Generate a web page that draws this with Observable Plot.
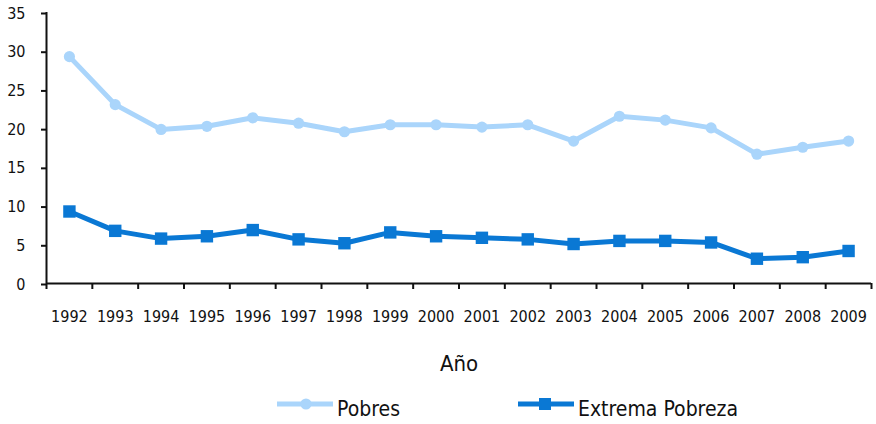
<!DOCTYPE html>
<html>
<head>
<meta charset="utf-8">
<script src="https://cdn.jsdelivr.net/npm/d3@7"></script>
<script src="https://cdn.jsdelivr.net/npm/@observablehq/plot@0.6"></script>
<style>
  html, body { margin: 0; padding: 0; background: #fff; }
  body { position: relative; width: 876px; height: 424px; overflow: hidden;
         font-family: "DejaVu Sans Condensed", "Liberation Sans Narrow", sans-serif; }
  #legend { position: absolute; left: 0; top: 390px; width: 876px; height: 34px; }
  .leg-swatch { position: absolute; top: 6px; }
  .leg-text { position: absolute; top: 8px; font-size: 21px; line-height: 22px; color: #111; white-space: nowrap; }
</style>
</head>
<body>
<div id="chart"></div>
<div id="legend"></div>
<script>
const years = [1992,1993,1994,1995,1996,1997,1998,1999,2000,2001,2002,2003,2004,2005,2006,2007,2008,2009];
const pobres = [29.3,23.1,19.9,20.3,21.4,20.7,19.6,20.5,20.5,20.2,20.5,18.4,21.6,21.1,20.1,16.7,17.6,18.4];
const extrema = [9.3,6.8,5.8,6.1,6.9,5.7,5.2,6.6,6.1,5.9,5.7,5.1,5.5,5.5,5.3,3.2,3.4,4.2];
const yTicks = [0,5,10,15,20,25,30,35];
const seriesNames = ["Pobres", "Extrema Pobreza"];
const xTitle = "Año";

const colorLight = "#aad5fb";
const colorDark = "#0a78d4";
const font = '"DejaVu Sans Condensed", "Liberation Sans Narrow", sans-serif';

const dataP = years.map((y, i) => ({year: y, value: pobres[i]}));
const dataE = years.map((y, i) => ({year: y, value: extrema[i]}));
const boundaries = d3.range(years[0] - 0.5, years[years.length - 1] + 1, 1);

const chart = Plot.plot({
  width: 876,
  height: 390,
  marginLeft: 46,
  marginRight: 5,
  marginTop: 12,
  marginBottom: 107,
  style: {fontFamily: font, color: "#111", background: "#fff", overflow: "visible"},
  x: {type: "linear", domain: [years[0] - 0.5, years[years.length - 1] + 0.5], label: null},
  y: {domain: [0, 35], label: null},
  marks: [
    Plot.axisY({ticks: yTicks, tickSize: 5, tickPadding: 16, fontSize: 16, strokeWidth: 2, dy: 1, label: null, tickFormat: d => String(d)}),
    Plot.axisX({ticks: years, tickSize: 0, tickPadding: 27, fontSize: 16, label: null, tickFormat: d => String(d)}),
    Plot.axisX({ticks: boundaries, tickSize: 6, strokeWidth: 2, label: null, tickFormat: () => ""}),
    Plot.ruleY([0], {stroke: "#111", strokeWidth: 2}),
    Plot.ruleX([years[0] - 0.5], {stroke: "#111", strokeWidth: 2}),
    Plot.line(dataP, {x: "year", y: "value", stroke: colorLight, strokeWidth: 5}),
    Plot.dot(dataP, {x: "year", y: "value", fill: colorLight, r: 5.6}),
    Plot.line(dataE, {x: "year", y: "value", stroke: colorDark, strokeWidth: 5}),
    Plot.dot(dataE, {x: "year", y: "value", fill: colorDark, symbol: "square", r: 7}),
    Plot.text([xTitle], {frameAnchor: "bottom", dy: 87, fontSize: 22, fill: "#111"})
  ]
});
document.getElementById("chart").appendChild(chart);

// legend
const legend = document.getElementById("legend");
const legendItems = [
  {name: seriesNames[0], color: colorLight, shape: "circle", swatchLeft: 277, textLeft: 337},
  {name: seriesNames[1], color: colorDark, shape: "square", swatchLeft: 518, textLeft: 578}
];
legendItems.forEach(it => {
  const svg = d3.create("svg").attr("class", "leg-swatch").attr("width", 56).attr("height", 16)
    .style("left", it.swatchLeft + "px");
  svg.append("line").attr("x1", 0).attr("x2", 56).attr("y1", 8).attr("y2", 8)
    .attr("stroke", it.color).attr("stroke-width", 5).attr("stroke-linecap", "round");
  if (it.shape === "circle") {
    svg.append("circle").attr("cx", 29).attr("cy", 8).attr("r", 5.6).attr("fill", it.color);
  } else {
    svg.append("rect").attr("x", 21).attr("y", 2).attr("width", 12).attr("height", 12).attr("fill", it.color);
  }
  legend.appendChild(svg.node());
  const t = document.createElement("div");
  t.className = "leg-text";
  t.style.left = it.textLeft + "px";
  t.textContent = it.name;
  legend.appendChild(t);
});
</script>
</body>
</html>
